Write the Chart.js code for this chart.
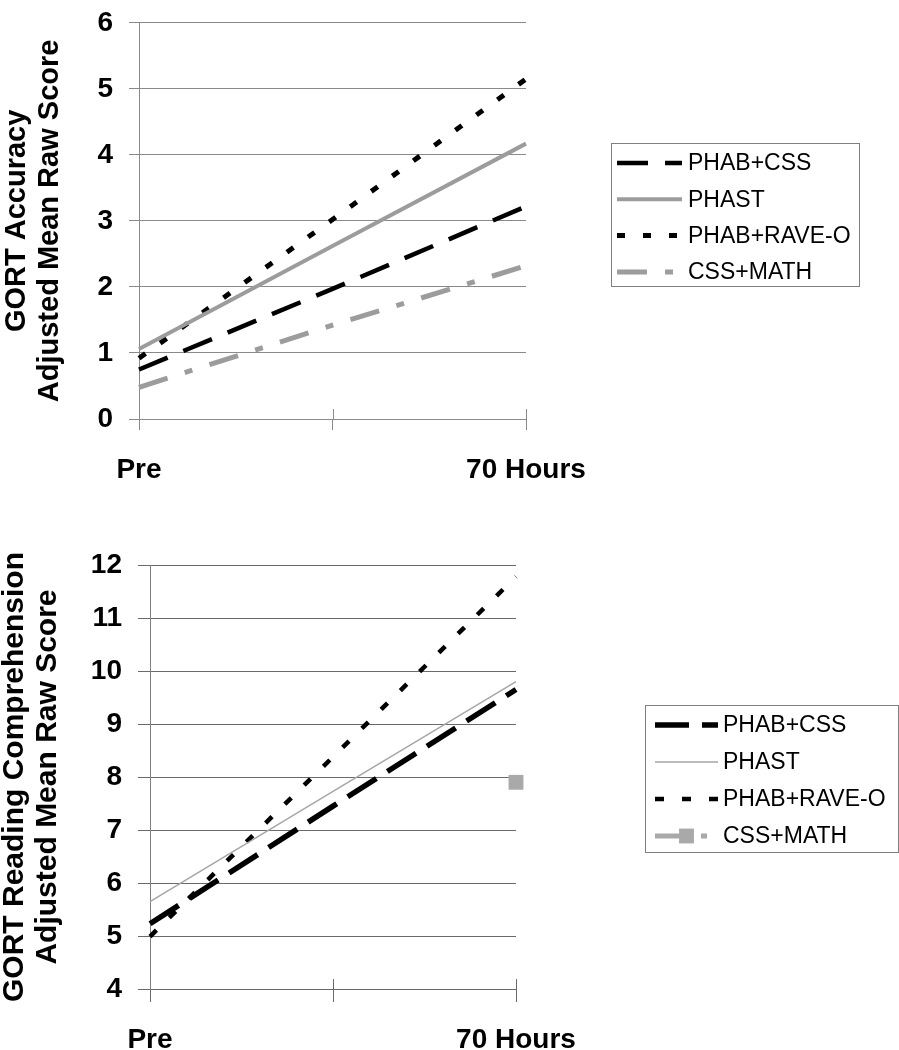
<!DOCTYPE html>
<html>
<head>
<meta charset="utf-8" />
<title>GORT Accuracy and Reading Comprehension</title>
<script src="https://cdn.jsdelivr.net/npm/chart.js@4.4.1/dist/chart.umd.min.js"></script>
<style>
  body { margin: 0; background: #fff; }
  #page { position: relative; width: 899px; height: 1050px; overflow: hidden; }
  canvas { position: absolute; left: 0; }
  #accuracy { top: -10px; }
  #comprehension { top: 500px; }
</style>
</head>
<body>
<div id="page">
  <canvas id="accuracy" width="899" height="510"></canvas>
  <canvas id="comprehension" width="899" height="550"></canvas>
</div>
<script>
var categories = ['Pre', '', '70 Hours'];
var groups = ['PHAB+CSS', 'PHAST', 'PHAB+RAVE-O', 'CSS+MATH'];

// GORT Accuracy, adjusted mean raw score
var accPhabCss  = [0.75, 1.97, 3.22];
var accPhast    = [1.06, 2.62, 4.17];
var accRaveO    = [0.92, 3.02, 5.15];
var accCssMath  = [0.48, 1.42, 2.32];
var accTicks    = [0, 1, 2, 3, 4, 5, 6];

// GORT Reading Comprehension, adjusted mean raw score
var compPhabCss = [5.23, 7.45, 9.65];
var compPhast   = [5.65, 7.73, 9.80];
var compRaveO   = [4.99, 8.38, 11.78];
var compCssMath = [null, null, 7.90];
var compTicks   = [4, 5, 6, 7, 8, 9, 10, 11, 12];

var FONT = '"Liberation Sans", Arial, Helvetica, sans-serif';

// legend with a frame, drawn from the datasets' own styles
var boxLegend = {
    id: 'boxLegend',
    afterDraw: function(chart, args, o) {
        var ctx = chart.ctx;
        ctx.save();
        ctx.setLineDash([]);
        ctx.strokeStyle = o.borderColor;
        ctx.lineWidth = 1;
        ctx.strokeRect(o.left + 0.5, o.top + 0.5, o.width, o.height);
        chart.data.datasets.forEach(function(ds, i) {
            var y = o.firstRow + i * o.rowStep;
            ctx.save();
            ctx.strokeStyle = ds.borderColor;
            ctx.lineWidth = ds.borderWidth;
            ctx.setLineDash(ds.borderDash || []);
            ctx.beginPath();
            ctx.moveTo(o.sampleStart, y);
            ctx.lineTo(o.sampleEnd, y);
            ctx.stroke();
            if (ds.pointRadius > 0) {
                var s = ds.pointRadius * Math.SQRT1_2;
                ctx.fillStyle = ds.pointBackgroundColor;
                ctx.fillRect((o.sampleStart + o.sampleEnd) / 2 - s, y - s, 2 * s, 2 * s);
            }
            ctx.restore();
            ctx.fillStyle = '#000';
            ctx.font = '23px ' + FONT;
            ctx.textBaseline = 'middle';
            ctx.fillText(ds.label, o.textX, y + 1);
        });
        ctx.restore();
    }
};

// category tick marks cross the axis line (except the first one, which is the y axis)
var crossTicks = {
    id: 'crossTicks',
    afterDraw: function(chart) {
        var x = chart.scales.x, ctx = chart.ctx;
        var opts = x.options.grid;
        ctx.save();
        ctx.strokeStyle = opts.color;
        ctx.lineWidth = 1;
        x.ticks.forEach(function(t, i) {
            if (i === 0) return;
            var px = Math.round(x.getPixelForTick(i)) + 0.5;
            ctx.beginPath();
            ctx.moveTo(px, x.top - 10);
            ctx.lineTo(px, x.top);
            ctx.stroke();
        });
        ctx.restore();
    }
};

function lineSet(label, data, color, width, dash) {
    return {
        label: label, data: data,
        borderColor: color, borderWidth: width, borderDash: dash,
        pointRadius: 0, fill: false, tension: 0, clip: false
    };
}

function buildChart(id, sets, ticks, title, s) {
    return new Chart(document.getElementById(id), {
        type: 'line',
        data: { labels: categories, datasets: sets },
        options: {
            responsive: false,
            animation: false,
            layout: { padding: { top: s.top, left: 0, right: s.right, bottom: 0 } },
            plugins: { legend: { display: false }, tooltip: { enabled: false }, boxLegend: s.legend },
            scales: {
                x: {
                    offset: false,
                    grid: { drawOnChartArea: false, color: s.grid, tickLength: s.xTick },
                    border: { display: true, color: s.grid },
                    ticks: { color: '#000', padding: s.xPad, maxRotation: 0, autoSkip: false,
                             font: { family: FONT, size: 28, weight: 'bold' } },
                    afterFit: function(scale) { scale.height = s.xHeight; }
                },
                y: {
                    min: ticks[0], max: ticks[ticks.length - 1],
                    afterBuildTicks: function(scale) {
                        scale.ticks = ticks.map(function(v) { return { value: v }; });
                    },
                    grid: { color: s.grid, tickLength: s.yTick },
                    border: { display: true, color: s.axis },
                    ticks: { color: '#000', padding: 16,
                             font: { family: FONT, size: 28, weight: 'bold' } },
                    title: { display: true, text: title, color: '#000', padding: { top: s.titlePad, bottom: 0 },
                             font: { family: FONT, size: s.titleSize, weight: 'bold', lineHeight: 33 / s.titleSize } },
                    afterFit: function(scale) { scale.width = s.yWidth; }
                }
            }
        },
        plugins: [boxLegend, crossTicks]
    });
}

var gray = '#9c9c9c';

buildChart('accuracy', [
    lineSet(groups[0], accPhabCss, '#000000', 4.5, [31, 17]),
    lineSet(groups[1], accPhast, gray, 4, []),
    lineSet(groups[2], accRaveO, '#000000', 5, [8, 18]),
    lineSet(groups[3], accCssMath, gray, 5, [30, 18, 8, 18])
], accTicks, ['GORT Accuracy', 'Adjusted Mean Raw Score'], {
    top: 21, right: 373, xHeight: 81, yWidth: 139, xTick: 11, yTick: 10, xPad: 23,
    grid: '#8a8a8a', axis: '#8a8a8a', titleSize: 29, titlePad: 0,
    legend: { left: 611, top: 153, width: 248, height: 143, firstRow: 173, rowStep: 36.3,
              sampleStart: 617, sampleEnd: 682, textX: 688, borderColor: '#808080' }
});

var cssMath = lineSet(groups[3], compCssMath, '#a9a9a9', 5, [28, 18, 6, 18]);
cssMath.pointRadius = 10.5;
cssMath.pointStyle = 'rect';
cssMath.pointBackgroundColor = '#a9a9a9';
cssMath.pointBorderWidth = 0;

buildChart('comprehension', [
    lineSet(groups[0], compPhabCss, '#000000', 5.5, [34, 13]),
    lineSet(groups[1], compPhast, '#a6a6a6', 1.5, []),
    lineSet(groups[2], compRaveO, '#000000', 4.5, [9, 18]),
    cssMath
], compTicks, ['GORT Reading Comprehension', 'Adjusted Mean Raw Score'], {
    top: 65, right: 383, xHeight: 61, yWidth: 150, xTick: 13, yTick: 12, xPad: 21,
    grid: '#6a6a6a', axis: '#808080', titleSize: 30, titlePad: -2,
    legend: { left: 645, top: 205, width: 253, height: 147, firstRow: 225, rowStep: 37,
              sampleStart: 655, sampleEnd: 718, textX: 723, borderColor: '#808080' }
});
</script>
</body>
</html>
